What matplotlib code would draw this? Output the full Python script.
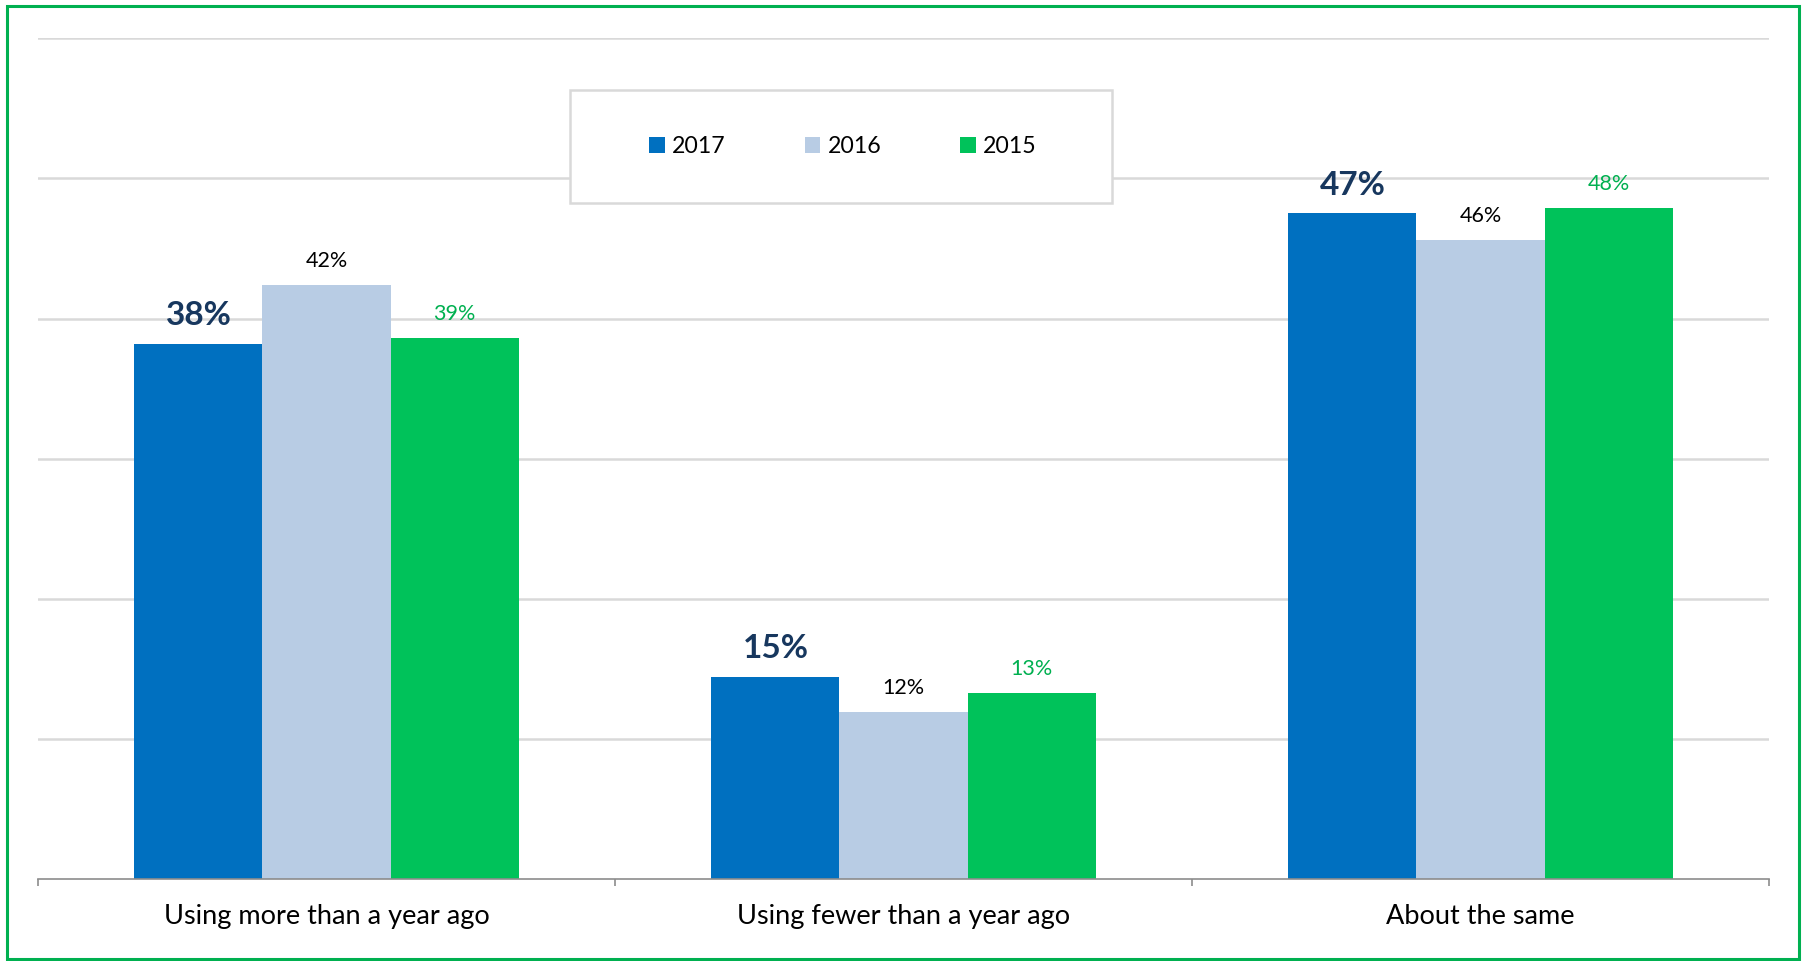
import numpy as np
import matplotlib
matplotlib.use('Agg')
import matplotlib.pyplot as plt
from matplotlib.patches import Rectangle

# data (bar heights as drawn, labels as printed)
categories = ['Using more than a year ago', 'Using fewer than a year ago', 'About the same']
years = ['2017', '2016', '2015']
vals_2017 = [38.2, 14.4, 47.5]
vals_2016 = [42.4, 11.9, 45.6]
vals_2015 = [38.6, 13.3, 47.9]
labels_2017 = ['38%', '15%', '47%']
labels_2016 = ['42%', '12%', '46%']
labels_2015 = ['39%', '13%', '48%']

bar_colors = ['#0070C0', '#B8CCE4', '#00C25A']
label_colors = ['#17375E', '#000000', '#00B050']
label_sizes = [24, 15.5, 15.5]
label_weights = ['bold', 'normal', 'normal']

plt.rcParams['font.family'] = ['Lato', 'DejaVu Sans']

W, H = 1805, 961
fig = plt.figure(figsize=(W / 100, H / 100), dpi=100)
ax = fig.add_axes([38 / W, 1 - 879 / H, (1769 - 38) / W, (879 - 38.3) / H])

x = np.arange(len(categories))
bw = 0.222
series = [vals_2017, vals_2016, vals_2015]
texts = [labels_2017, labels_2016, labels_2015]
for i, vals in enumerate(series):
    bars = ax.bar(x + (i - 1) * bw, vals, width=bw, color=bar_colors[i],
                  label=years[i], zorder=3)
    for b, v, t in zip(bars, vals, texts[i]):
        ax.annotate(t, (b.get_x() + b.get_width() / 2, v),
                    xytext=(0, 10), textcoords='offset points',
                    ha='center', va='bottom', fontsize=label_sizes[i],
                    fontweight=label_weights[i], color=label_colors[i])

ax.set_xlim(-0.5, 2.5)
ax.set_ylim(0, 60)
ax.set_yticks(np.arange(10, 61, 10))
ax.yaxis.grid(True, color='#D9D9D9', linewidth=1.8, zorder=0)
ax.tick_params(axis='y', length=0, labelleft=False)

ax.set_xticks(x)
ax.set_xticklabels(categories, fontsize=19.5)
ax.tick_params(axis='x', which='major', length=0, pad=18)
ax.set_xticks([-0.5, 0.5, 1.5, 2.5], minor=True)
ax.tick_params(axis='x', which='minor', length=5, width=1.2, color='#8C8C8C')

for s in ['top', 'right', 'left']:
    ax.spines[s].set_visible(False)
ax.spines['bottom'].set_color('#8C8C8C')
ax.spines['bottom'].set_linewidth(1.2)
ax.spines['bottom'].set_zorder(4)

# legend box
fig.patches.append(Rectangle((570 / W, 1 - 203 / H), (1112 - 570) / W, (203 - 90) / H,
                             transform=fig.transFigure, facecolor='white',
                             edgecolor='#D9D9D9', linewidth=1.8, zorder=5))
leg = fig.legend(loc='center', bbox_to_anchor=(843 / W, 1 - 146.5 / H), ncol=3,
                 frameon=False, fontsize=16.7, handlelength=0.66, handleheight=0.66,
                 handletextpad=0.33, columnspacing=3.4)
leg.set_zorder(6)

# outer green frame
fig.patches.append(Rectangle((7 / W, 1 - 959 / H), (1799 - 7) / W, (959 - 6) / H,
                             transform=fig.transFigure, facecolor='none',
                             edgecolor='#00B050', linewidth=2.2, zorder=10))

fig.savefig('out.png', dpi=100)
